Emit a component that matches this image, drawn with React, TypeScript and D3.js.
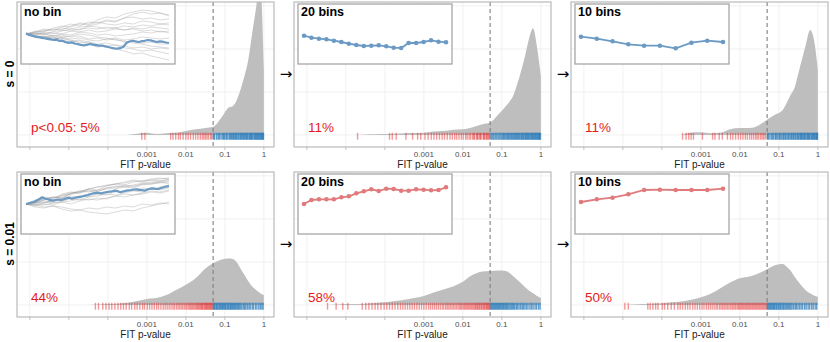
import React from 'react';
import * as d3 from 'd3';

// ---- data -------------------------------------------------------------

// log10(p) grid on which the density curves are read
const logGrid = [-6, -5.75, -5.5, -5.25, -5, -4.75, -4.5, -4.25, -4, -3.75, -3.5, -3.25, -3, -2.75, -2.5, -2.25, -2, -1.75, -1.5, -1.3, -1.1, -0.9, -0.8, -0.7, -0.6, -0.5, -0.4, -0.3, -0.2, -0.1, 0];

const densS0NoBin = [0, 0, 0, 0, 0, 0, 0, 0, 0, 0, 0, 0.03, 0.05, 0.02, 0.04, 0.05, 0.09, 0.13, 0.16, 0.19, 0.39, 0.64, 0.67, 0.8, 1.05, 1.36, 1.74, 2.36, 2.95, 3.6, 1.5];
const densS0Bin20 = [0, 0, 0, 0, 0, 0, 0.01, 0.015, 0.02, 0.03, 0.04, 0.045, 0.05, 0.08, 0.09, 0.12, 0.13, 0.18, 0.25, 0.29, 0.47, 0.67, 0.78, 0.93, 1.2, 1.51, 1.86, 2.25, 2.48, 2.05, 1.36];
const densS0Bin10 = [0, 0, 0, 0, 0, 0, 0, 0, 0, 0, 0, 0.05, 0.06, 0.04, 0.05, 0.13, 0.16, 0.16, 0.23, 0.36, 0.47, 0.58, 0.74, 0.93, 1.09, 1.43, 1.78, 2.13, 2.44, 2.21, 1.51];
const densS001NoBin = [0, 0, 0, 0, 0, 0, 0, 0.01, 0.02, 0.03, 0.05, 0.09, 0.14, 0.16, 0.23, 0.35, 0.47, 0.62, 0.85, 0.97, 1.05, 1.08, 1.07, 1.0, 0.85, 0.7, 0.55, 0.43, 0.35, 0.28, 0.23];
const densS001Bin20 = [0, 0, 0, 0.01, 0.02, 0.025, 0.03, 0.045, 0.06, 0.09, 0.12, 0.16, 0.21, 0.29, 0.36, 0.43, 0.54, 0.7, 0.78, 0.79, 0.8, 0.79, 0.74, 0.66, 0.58, 0.5, 0.41, 0.33, 0.27, 0.21, 0.17];
const densS001Bin10 = [0, 0, 0, 0, 0, 0.01, 0.02, 0.03, 0.04, 0.06, 0.08, 0.12, 0.18, 0.26, 0.39, 0.52, 0.62, 0.66, 0.74, 0.83, 0.92, 0.95, 0.89, 0.8, 0.66, 0.54, 0.43, 0.33, 0.27, 0.22, 0.19];

// rug: log10 of FIT p-values
const rugS0NoBin = [-3.13, -3.05, -2.39, -2.33, -2.26, -2.19, -2.14, -2.07, -2.0, -1.94, -1.88, -1.81, -1.75, -1.69, -1.63, -1.58, -1.54, -1.5, -1.46, -1.42, -1.37, -1.34,
  -1.29, -1.26, -1.21, -1.17, -1.14, -1.1, -1.06, -1.03, -1.01, -0.97, -0.95, -0.92, -0.88, -0.86, -0.83, -0.81, -0.78, -0.76, -0.73, -0.71, -0.69, -0.66, -0.64, -0.61, -0.59, -0.57, -0.54, -0.52, -0.5, -0.47, -0.45, -0.43, -0.41, -0.38, -0.36, -0.34, -0.32, -0.3, -0.28, -0.25, -0.23, -0.21, -0.19, -0.17, -0.15, -0.13, -0.11, -0.09, -0.07, -0.05, -0.04, -0.02, -0.01];
const rugS0Bin20 = [-4.7, -3.88, -3.81, -3.71, -3.46, -3.29, -3.16, -3.08, -2.97, -2.89, -2.81, -2.74, -2.67, -2.6, -2.53, -2.47, -2.4, -2.33, -2.27, -2.21, -2.16, -2.1, -2.04, -1.99, -1.93, -1.89, -1.84, -1.8, -1.75, -1.72, -1.7, -1.65, -1.63, -1.61, -1.57, -1.55, -1.53, -1.48, -1.46, -1.45, -1.41, -1.39, -1.37, -1.34, -1.32,
  -1.28, -1.25, -1.22, -1.18, -1.15, -1.12, -1.08, -1.05, -1.02, -0.99, -0.96, -0.94, -0.91, -0.88, -0.85, -0.83, -0.8, -0.77, -0.75, -0.72, -0.7, -0.67, -0.65, -0.62, -0.6, -0.58, -0.55, -0.53, -0.5, -0.48, -0.46, -0.44, -0.41, -0.39, -0.37, -0.35, -0.33, -0.31, -0.29, -0.26, -0.24, -0.22, -0.2, -0.18, -0.16, -0.14, -0.12, -0.1, -0.08, -0.06, -0.04, -0.03, -0.01];
const rugS0Bin10 = [-3.47, -3.38, -3.31, -3.25, -3.19, -2.96, -2.7, -2.64, -2.53, -2.45, -2.32, -2.24, -2.18, -2.11, -2.04, -1.98, -1.92, -1.86, -1.81, -1.75, -1.7, -1.65, -1.6, -1.56, -1.52, -1.47, -1.43, -1.39, -1.35,
  -1.29, -1.27, -1.23, -1.19, -1.16, -1.13, -1.09, -1.07, -1.04, -1.0, -0.98, -0.95, -0.92, -0.89, -0.87, -0.84, -0.82, -0.79, -0.76, -0.74, -0.71, -0.68, -0.66, -0.63, -0.61, -0.58, -0.56, -0.53, -0.51, -0.49, -0.46, -0.44, -0.42, -0.4, -0.37, -0.35, -0.33, -0.31, -0.28, -0.26, -0.24, -0.22, -0.2, -0.17, -0.15, -0.13, -0.11, -0.09, -0.07, -0.05, -0.03, -0.02, -0.01];
const rugS001NoBin = [-4.32, -4.24, -4.13, -4.05, -3.97, -3.9, -3.82, -3.74, -3.67, -3.6, -3.53, -3.45, -3.39, -3.31, -3.25, -3.18, -3.11, -3.06, -2.99, -2.93, -2.87, -2.81, -2.75, -2.7, -2.64, -2.58, -2.53, -2.48, -2.43, -2.38, -2.33, -2.29, -2.24, -2.2, -2.16, -2.12, -2.08, -2.04, -2.0, -1.97, -1.93, -1.9, -1.87, -1.84, -1.81, -1.78, -1.75, -1.72, -1.7, -1.67, -1.65, -1.62, -1.6, -1.58, -1.56, -1.53, -1.51, -1.49, -1.47, -1.45, -1.43, -1.41, -1.39, -1.37, -1.35, -1.33, -1.31,
  -1.29, -1.27, -1.25, -1.22, -1.2, -1.18, -1.15, -1.13, -1.11, -1.08, -1.06, -1.04, -1.01, -0.99, -0.97, -0.94, -0.92, -0.9, -0.87, -0.85, -0.83, -0.8, -0.78, -0.75, -0.73, -0.7, -0.67, -0.65, -0.62, -0.59, -0.56, -0.52, -0.49, -0.46, -0.42, -0.38, -0.35, -0.3, -0.27, -0.22, -0.18, -0.13, -0.09, -0.05, -0.02];
const rugS001Bin20 = [-5.47, -5.25, -5.08, -4.95, -4.58, -4.49, -4.41, -4.33, -4.25, -4.18, -4.1, -4.02, -3.95, -3.88, -3.81, -3.74, -3.67, -3.6, -3.54, -3.48, -3.42, -3.36, -3.3, -3.24, -3.18, -3.12, -3.06, -3.0, -2.94, -2.88, -2.83, -2.78, -2.73, -2.68, -2.63, -2.58, -2.53, -2.49, -2.44, -2.4, -2.36, -2.32, -2.28, -2.24, -2.2, -2.16, -2.12, -2.08, -2.05, -2.02, -1.98, -1.95, -1.92, -1.89, -1.86, -1.83, -1.8, -1.77, -1.74, -1.71, -1.68, -1.66, -1.63, -1.61, -1.58, -1.56, -1.53, -1.51, -1.48, -1.46, -1.44, -1.41, -1.39, -1.37, -1.35, -1.33, -1.31,
  -1.29, -1.26, -1.24, -1.21, -1.19, -1.16, -1.14, -1.11, -1.09, -1.06, -1.04, -1.01, -0.98, -0.96, -0.93, -0.9, -0.88, -0.85, -0.82, -0.79, -0.76, -0.73, -0.7, -0.67, -0.63, -0.6, -0.56, -0.52, -0.48, -0.45, -0.41, -0.37, -0.33, -0.28, -0.24, -0.2, -0.15, -0.11, -0.06, -0.02];
const rugS001Bin10 = [-4.95, -4.86, -4.36, -4.3, -4.23, -4.16, -4.1, -3.99, -3.93, -3.85, -3.76, -3.68, -3.59, -3.53, -3.47, -3.4, -3.34, -3.28, -3.21, -3.15, -3.09, -3.03, -2.97, -2.92, -2.86, -2.81, -2.76, -2.71, -2.66, -2.61, -2.57, -2.52, -2.48, -2.44, -2.4, -2.36, -2.32, -2.28, -2.24, -2.2, -2.17, -2.13, -2.1, -2.06, -2.03, -2.0, -1.97, -1.94, -1.91, -1.88, -1.85, -1.82, -1.79, -1.76, -1.73, -1.7, -1.67, -1.64, -1.61, -1.58, -1.55, -1.52, -1.49, -1.46, -1.43, -1.4, -1.37, -1.34, -1.31,
  -1.29, -1.27, -1.24, -1.22, -1.19, -1.17, -1.14, -1.12, -1.1, -1.07, -1.05, -1.02, -1.0, -0.97, -0.95, -0.92, -0.89, -0.87, -0.84, -0.81, -0.78, -0.75, -0.72, -0.69, -0.66, -0.62, -0.58, -0.55, -0.51, -0.47, -0.43, -0.39, -0.34, -0.3, -0.25, -0.21, -0.16, -0.12, -0.07, -0.03];

// inset trajectories (allele frequency)
const focusS0 = [0.507, 0.49, 0.482, 0.474, 0.469, 0.462, 0.458, 0.451, 0.447, 0.44, 0.444, 0.43, 0.433, 0.418, 0.412, 0.416, 0.405, 0.398, 0.392, 0.387, 0.391, 0.4, 0.394, 0.389, 0.383, 0.385, 0.376, 0.37, 0.362, 0.357, 0.353, 0.358, 0.373, 0.41, 0.425, 0.433, 0.426, 0.42, 0.428, 0.432, 0.44, 0.436, 0.428, 0.42, 0.426, 0.423, 0.415, 0.41];
const focusS001 = [0.497, 0.507, 0.515, 0.52, 0.535, 0.55, 0.567, 0.555, 0.547, 0.538, 0.533, 0.54, 0.545, 0.54, 0.548, 0.557, 0.563, 0.553, 0.56, 0.567, 0.572, 0.577, 0.584, 0.59, 0.6, 0.607, 0.613, 0.61, 0.607, 0.615, 0.62, 0.624, 0.627, 0.633, 0.628, 0.617, 0.625, 0.633, 0.637, 0.64, 0.645, 0.647, 0.642, 0.64, 0.633, 0.645, 0.653, 0.657, 0.652, 0.65, 0.66, 0.667, 0.675, 0.68];
const bins20S0 = [0.483, 0.463, 0.453, 0.447, 0.433, 0.42, 0.403, 0.39, 0.38, 0.383, 0.387, 0.377, 0.363, 0.36, 0.41, 0.41, 0.42, 0.437, 0.423, 0.417];
const bins10S0 = [0.473, 0.453, 0.427, 0.397, 0.383, 0.383, 0.357, 0.413, 0.433, 0.42];
const bins20S001 = [0.5, 0.54, 0.547, 0.547, 0.547, 0.567, 0.577, 0.607, 0.627, 0.647, 0.63, 0.653, 0.65, 0.633, 0.633, 0.647, 0.643, 0.637, 0.64, 0.667];
const bins10S001 = [0.52, 0.547, 0.563, 0.597, 0.64, 0.643, 0.64, 0.64, 0.64, 0.653];

const walksS0 = [
  [0.5, 0.52, 0.55, 0.54, 0.57, 0.6, 0.58, 0.62, 0.61, 0.64, 0.63, 0.66, 0.67, 0.65, 0.66, 0.64, 0.65],
  [0.5, 0.49, 0.51, 0.5, 0.53, 0.55, 0.54, 0.58, 0.6, 0.63, 0.62, 0.66, 0.7, 0.72, 0.7, 0.71, 0.68],
  [0.5, 0.48, 0.46, 0.47, 0.44, 0.42, 0.43, 0.4, 0.37, 0.38, 0.35, 0.33, 0.3, 0.31, 0.28, 0.26, 0.24],
  [0.5, 0.51, 0.5, 0.48, 0.49, 0.47, 0.48, 0.45, 0.46, 0.44, 0.45, 0.42, 0.43, 0.41, 0.42, 0.4, 0.4],
  [0.5, 0.53, 0.52, 0.56, 0.58, 0.57, 0.6, 0.59, 0.62, 0.6, 0.59, 0.61, 0.6, 0.63, 0.62, 0.6, 0.61],
  [0.5, 0.47, 0.48, 0.45, 0.46, 0.44, 0.41, 0.42, 0.39, 0.38, 0.39, 0.36, 0.35, 0.33, 0.34, 0.32, 0.3],
  [0.5, 0.52, 0.54, 0.53, 0.56, 0.55, 0.57, 0.58, 0.57, 0.55, 0.56, 0.58, 0.57, 0.59, 0.58, 0.6, 0.59],
  [0.5, 0.49, 0.47, 0.48, 0.5, 0.49, 0.52, 0.51, 0.49, 0.5, 0.48, 0.49, 0.5, 0.52, 0.51, 0.53, 0.51],
  [0.5, 0.51, 0.53, 0.55, 0.54, 0.58, 0.61, 0.6, 0.64, 0.67, 0.66, 0.7, 0.72, 0.74, 0.73, 0.71, 0.69],
  [0.5, 0.48, 0.47, 0.45, 0.46, 0.43, 0.44, 0.42, 0.4, 0.41, 0.39, 0.38, 0.36, 0.37, 0.35, 0.36, 0.35],
  [0.5, 0.5, 0.52, 0.51, 0.5, 0.53, 0.52, 0.54, 0.52, 0.53, 0.55, 0.54, 0.56, 0.55, 0.57, 0.56, 0.55],
  [0.5, 0.47, 0.48, 0.46, 0.47, 0.45, 0.46, 0.44, 0.43, 0.45, 0.46, 0.44, 0.45, 0.47, 0.46, 0.45, 0.46],
  [0.5, 0.51, 0.5, 0.52, 0.54, 0.53, 0.55, 0.56, 0.55, 0.57, 0.56, 0.54, 0.55, 0.53, 0.54, 0.52, 0.53],
  [0.5, 0.49, 0.5, 0.48, 0.47, 0.48, 0.5, 0.49, 0.47, 0.46, 0.44, 0.43, 0.41, 0.4, 0.38, 0.37, 0.36],
];
const walksS001 = [
  [0.5, 0.53, 0.56, 0.55, 0.6, 0.62, 0.61, 0.65, 0.67, 0.68, 0.7, 0.71, 0.73, 0.72, 0.74, 0.75, 0.76],
  [0.5, 0.52, 0.55, 0.57, 0.56, 0.6, 0.63, 0.62, 0.64, 0.66, 0.68, 0.67, 0.69, 0.71, 0.72, 0.73, 0.74],
  [0.5, 0.49, 0.47, 0.48, 0.45, 0.43, 0.44, 0.42, 0.41, 0.4, 0.42, 0.44, 0.43, 0.46, 0.48, 0.5, 0.52],
  [0.5, 0.51, 0.53, 0.52, 0.55, 0.56, 0.58, 0.57, 0.6, 0.61, 0.63, 0.62, 0.64, 0.66, 0.65, 0.67, 0.69],
  [0.5, 0.54, 0.57, 0.56, 0.59, 0.61, 0.62, 0.64, 0.63, 0.65, 0.66, 0.68, 0.67, 0.7, 0.7, 0.71, 0.72],
  [0.5, 0.48, 0.5, 0.49, 0.52, 0.53, 0.55, 0.54, 0.56, 0.55, 0.58, 0.6, 0.59, 0.61, 0.63, 0.62, 0.64],
  [0.5, 0.52, 0.54, 0.57, 0.56, 0.6, 0.62, 0.65, 0.64, 0.68, 0.7, 0.69, 0.72, 0.73, 0.74, 0.73, 0.75],
  [0.5, 0.5, 0.52, 0.51, 0.53, 0.55, 0.54, 0.57, 0.58, 0.6, 0.59, 0.61, 0.63, 0.62, 0.65, 0.64, 0.66],
  [0.5, 0.47, 0.46, 0.48, 0.47, 0.45, 0.44, 0.46, 0.45, 0.47, 0.46, 0.48, 0.47, 0.5, 0.49, 0.51, 0.5],
  [0.5, 0.53, 0.55, 0.54, 0.58, 0.6, 0.61, 0.63, 0.62, 0.66, 0.67, 0.69, 0.68, 0.7, 0.71, 0.72, 0.73],
  [0.5, 0.49, 0.51, 0.54, 0.53, 0.56, 0.57, 0.59, 0.6, 0.59, 0.62, 0.63, 0.64, 0.63, 0.66, 0.65, 0.67],
  [0.5, 0.52, 0.51, 0.53, 0.56, 0.58, 0.57, 0.6, 0.62, 0.61, 0.65, 0.67, 0.66, 0.69, 0.7, 0.72, 0.7],
  [0.5, 0.51, 0.54, 0.56, 0.58, 0.61, 0.63, 0.65, 0.67, 0.69, 0.7, 0.72, 0.74, 0.73, 0.75, 0.76, 0.75],
  [0.5, 0.5, 0.49, 0.51, 0.52, 0.5, 0.53, 0.55, 0.54, 0.56, 0.58, 0.57, 0.59, 0.6, 0.62, 0.61, 0.63],
];

const rowLabels = ['s = 0', 's = 0.01'];
const insetTitles = ['no bin', '20 bins', '10 bins'];
const pctLabels = [['p<0.05: 5%', '11%', '11%'], ['44%', '58%', '50%']];
const xTicks = [1e-6, 1e-5, 1e-4, 1e-3, 1e-2, 1e-1, 1];
const xTickLabels = ['', '', '', '0.001', '0.01', '0.1', '1'];
const yGridVals = [0, 1, 2, 3];
const threshold = 0.05;

// ---- layout -----------------------------------------------------------

const W = 830, H = 342;
const FONT = '"Liberation Sans", Arial, Helvetica, sans-serif';
const colLefts = [17, 294, 571];
const rowTops = [2, 172];
const PW = 257, PH = 145;
const BLUE = '#6b9ac4', RED = '#e07b7d';

const rows = [
  { dens: [densS0NoBin, densS0Bin20, densS0Bin10], rug: [rugS0NoBin, rugS0Bin20, rugS0Bin10], focus: focusS0, walks: walksS0, bins: [bins20S0, bins10S0], color: BLUE },
  { dens: [densS001NoBin, densS001Bin20, densS001Bin10], rug: [rugS001NoBin, rugS001Bin20, rugS001Bin10], focus: focusS001, walks: walksS001, bins: [bins20S001, bins10S001], color: RED },
];

function Inset({ bx, by, col, row }) {
  const bw = 154, bh = 60;
  const fy = d3.scaleLinear().domain([0.2, 0.8]).range([by + bh, by]);
  const line = (n) => {
    const sx = d3.scaleLinear().domain([0, n - 1]).range([bx + 5, bx + 148]);
    return d3.line().x((d, i) => sx(i)).y(d => fy(d));
  };
  return (
    <g>
      <rect x={bx} y={by} width={bw} height={bh} fill="#fff" stroke="#a6a6a6" strokeWidth={1.3} />
      {col === 0 && (
        <g>
          {row.walks.map((w, i) => (
            <path key={i} d={line(w.length)(w)} fill="none" stroke="#8c8c8c" strokeOpacity={0.45} strokeWidth={0.7} />
          ))}
          <path d={line(row.focus.length)(row.focus)} fill="none" stroke={BLUE} strokeWidth={2.2} strokeLinejoin="round" />
        </g>
      )}
      {col > 0 && (() => {
        const b = row.bins[col - 1];
        const bxScale = d3.scaleLinear().domain([0, b.length - 1]).range([bx + 6, bx + 148]);
        const bl = d3.line().x((d, i) => bxScale(i)).y(d => fy(d));
        return (
          <g>
            <path d={bl(b)} fill="none" stroke={row.color} strokeWidth={1.8} />
            {b.map((v, i) => <circle key={i} cx={bxScale(i)} cy={fy(v)} r={2.3} fill={row.color} />)}
          </g>
        );
      })()}
      <text x={bx + 3} y={by + 12} fontSize={12.5} fontWeight="bold" fill="#000">{insetTitles[col]}</text>
    </g>
  );
}

function Panel({ ri, ci }) {
  const left = colLefts[ci], top = rowTops[ri];
  const row = rows[ri];
  const dens = row.dens[ci];
  const rug = row.rug[ci];
  const x = d3.scaleLog().domain([10 ** -6.33, 10 ** 0.26]).range([left, left + PW]);
  const y = d3.scaleLinear().domain([-0.28, 3.09]).range([top + PH, top]);
  const pts = logGrid.map((lp, i) => [lp, dens[i]]);
  const first = Math.max(0, pts.findIndex(p => p[1] > 0) - 1);
  const area = d3.area().x(d => x(10 ** d[0])).y0(y(0)).y1(d => y(d[1])).curve(d3.curveMonotoneX);
  const clipId = `clip-${ri}-${ci}`;
  return (
    <g>
      <defs>
        <clipPath id={clipId}><rect x={left} y={top} width={PW} height={PH} /></clipPath>
      </defs>
      <rect x={left} y={top} width={PW} height={PH} fill="#fff" />
      {yGridVals.map(v => (
        <line key={'h' + v} x1={left} x2={left + PW} y1={y(v)} y2={y(v)} stroke="#ebebeb" strokeWidth={0.7} />
      ))}
      {xTicks.map(t => (
        <line key={'v' + t} x1={x(t)} x2={x(t)} y1={top} y2={top + PH} stroke="#ebebeb" strokeWidth={0.7} />
      ))}
      <g clipPath={`url(#${clipId})`}>
        <path d={area(pts.slice(first))} fill="#bebebe" />
        {rug.map((v, i) => {
          const p = 10 ** v;
          const red = p < threshold;
          return (
            <line key={i} x1={x(p)} x2={x(p)} y1={y(0.05)} y2={y(-0.11)}
              stroke={red ? '#e41a1c' : '#2b7bba'} strokeOpacity={red ? 0.45 : 0.75} strokeWidth={1.4} />
          );
        })}
        <line x1={x(threshold)} x2={x(threshold)} y1={top} y2={top + PH} stroke="#7f7f7f" strokeWidth={1.1} strokeDasharray="4,3" />
      </g>
      <text x={left + 14} y={top + 130} fontSize={13.5} fill="#e41a1c">{pctLabels[ri][ci]}</text>
      <Inset bx={left + 4} by={top + 2} col={ci} row={row} />
      <rect x={left} y={top} width={PW} height={PH} fill="none" stroke="#b3b3b3" strokeWidth={1.1} />
      {xTicks.map((t, i) => (
        <g key={'t' + t}>
          <line x1={x(t)} x2={x(t)} y1={top + PH} y2={top + PH + 3} stroke="#b3b3b3" strokeWidth={0.8} />
          {xTickLabels[i] && (
            <text x={x(t)} y={top + PH + 10} fontSize={8} fill="#4d4d4d" textAnchor="middle">{xTickLabels[i]}</text>
          )}
        </g>
      ))}
      <text x={left + PW / 2} y={top + PH + 20.5} fontSize={10} fill="#1a1a1a" textAnchor="middle">FIT p-value</text>
    </g>
  );
}

export default function App() {
  return (
    <svg width={W} height={H} viewBox={`0 0 ${W} ${H}`} style={{ position: 'absolute', left: 0, top: 0, background: '#fff' }} fontFamily={FONT}>
      <rect x={0} y={0} width={W} height={H} fill="#fff" />
      {rowTops.map((top, ri) => (
        <g key={ri}>
          <text transform={`translate(13.5, ${top + 72}) rotate(-90)`} fontSize={12} fontWeight="bold" textAnchor="middle" fill="#000">{rowLabels[ri]}</text>
          {colLefts.slice(1).map((l, k) => (
            <text key={k} x={l - 8} y={top + 77} fontSize={15} fontFamily='"DejaVu Sans", sans-serif' textAnchor="middle" fill="#000">→</text>
          ))}
          {colLefts.map((l, ci) => <Panel key={ci} ri={ri} ci={ci} />)}
        </g>
      ))}
    </svg>
  );
}
